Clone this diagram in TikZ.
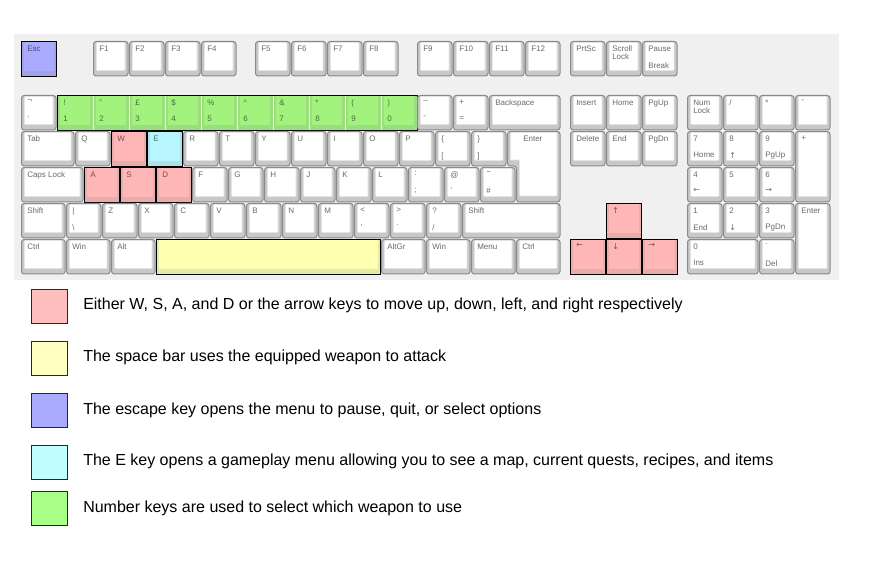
\documentclass[tikz,border=0pt]{standalone}
\usepackage{fontspec}
\setmainfont{Liberation Sans}
\newfontfamily\arrowfont{DejaVu Sans}
\definecolor{kbbg}{HTML}{F0F0F0}
\definecolor{keygray}{HTML}{C8C8C8}
\definecolor{keyedge}{HTML}{8A8A8A}
\definecolor{keytext}{HTML}{6A6A6A}
\definecolor{hlred}{HTML}{FFB6B6}
\definecolor{hlyellow}{HTML}{FFFFB0}
\definecolor{hlblue}{HTML}{AAAAFF}
\definecolor{hlcyan}{HTML}{B8F6FF}
\definecolor{hlgreen}{HTML}{A2F37E}
\definecolor{lgred}{HTML}{FFBFBF}
\definecolor{lgyellow}{HTML}{FFFFBF}
\definecolor{lgblue}{HTML}{AAAAFF}
\definecolor{lgcyan}{HTML}{BFFFFF}
\definecolor{lggreen}{HTML}{AAFF88}
\tikzset{
  keyout/.style={draw=keyedge, fill=keygray, line width=0.75pt, rounded corners=2pt},
  keyface/.style={draw=black!10, fill=white, line width=0.4pt, rounded corners=0.6pt},
  klab/.style={anchor=north west, inner sep=0pt, text=keytext, font=\fontsize{6}{6}\selectfont, align=left},
  hlout/.style={draw=black, line width=0.9pt},
  legsq/.style={draw=black!85, line width=0.75pt, minimum width=26.6pt, minimum height=25.5pt, inner sep=0pt},
  legtxt/.style={anchor=west, inner sep=0pt, font=\fontsize{12}{14}\selectfont, text=black},
}
% plain key: name, column, top y (px), width (u), height (u), top label, bottom label
\newcommand\kk[7]{%
  \pgfmathsetmacro\kx{21+36*#2}%
  \pgfmathsetmacro\kw{36*#4}%
  \pgfmathsetmacro\kh{36*#5}%
  \draw[keyout] (\kx+0.5,#3+0.5) rectangle ++(\kw-1.5,\kh-1.5);
  \draw[keyface] (\kx+3.5,#3+1.5) rectangle ++(\kw-7.5,\kh-8);
  \node[klab] (#1) at (\kx+6,#3+4.5) {#6};
  \node[klab] (#1b) at (\kx+6,#3+21) {#7};
}
% coloured key: name, column, top y, width, height, colour, top label, bottom label, outline style
\newcommand\ck[9]{%
  \pgfmathsetmacro\kx{21+36*#2}%
  \pgfmathsetmacro\kw{36*#4}%
  \pgfmathsetmacro\kh{36*#5}%
  \fill[#6!82!gray] (\kx+0.5,#3+0.5) rectangle ++(\kw-1,\kh-1);
  \fill[#6] (\kx+3,#3+1.5) rectangle ++(\kw-6.5,\kh-7.5);
  \draw[#9] (\kx+0.5,#3+0.5) rectangle ++(\kw-1,\kh-1);
  \node[klab, text=#6!45!black] (#1) at (\kx+6,#3+4.5) {#7};
  \node[klab, text=#6!45!black] (#1b) at (\kx+6,#3+21) {#8};
}
\begin{document}
\begin{tikzpicture}[x=0.75pt,y=-0.75pt]
\useasboundingbox (0,0) rectangle (892,573);
\fill[white] (0,0) rectangle (892,573);
\fill[kbbg] (14,34) rectangle (839,280);

% function row
\ck{esc}{0}{41}{1}{1}{hlblue}{Esc}{}{hlout}
\kk{f1}{2}{41}{1}{1}{F1}{}
\kk{f2}{3}{41}{1}{1}{F2}{}
\kk{f3}{4}{41}{1}{1}{F3}{}
\kk{f4}{5}{41}{1}{1}{F4}{}
\kk{f5}{6.5}{41}{1}{1}{F5}{}
\kk{f6}{7.5}{41}{1}{1}{F6}{}
\kk{f7}{8.5}{41}{1}{1}{F7}{}
\kk{f8}{9.5}{41}{1}{1}{F8}{}
\kk{f9}{11}{41}{1}{1}{F9}{}
\kk{f10}{12}{41}{1}{1}{F10}{}
\kk{f11}{13}{41}{1}{1}{F11}{}
\kk{f12}{14}{41}{1}{1}{F12}{}
\kk{prt}{15.25}{41}{1}{1}{PrtSc}{}
\kk{scr}{16.25}{41}{1}{1}{Scroll\\Lock}{}
\kk{pause}{17.25}{41}{1}{1}{Pause}{Break}

% number row
\kk{grave}{0}{95}{1}{1}{¬}{\symbol{96}}
\ck{g1}{1}{95}{1}{1}{hlgreen}{!}{1}{draw=none}
\ck{g2}{2}{95}{1}{1}{hlgreen}{"}{2}{draw=none}
\ck{g3}{3}{95}{1}{1}{hlgreen}{£}{3}{draw=none}
\ck{g4}{4}{95}{1}{1}{hlgreen}{\$}{4}{draw=none}
\ck{g5}{5}{95}{1}{1}{hlgreen}{\%}{5}{draw=none}
\ck{g6}{6}{95}{1}{1}{hlgreen}{\textasciicircum}{6}{draw=none}
\ck{g7}{7}{95}{1}{1}{hlgreen}{\&}{7}{draw=none}
\ck{g8}{8}{95}{1}{1}{hlgreen}{*}{8}{draw=none}
\ck{g9}{9}{95}{1}{1}{hlgreen}{(}{9}{draw=none}
\ck{g0}{10}{95}{1}{1}{hlgreen}{)}{0}{draw=none}
\draw[hlout] (57.5,95.5) rectangle (417.5,130.5);
\kk{minus}{11}{95}{1}{1}{\_}{-}
\kk{equal}{12}{95}{1}{1}{+}{=}
\kk{bksp}{13}{95}{2}{1}{Backspace}{}
\kk{ins}{15.25}{95}{1}{1}{Insert}{}
\kk{home}{16.25}{95}{1}{1}{Home}{}
\kk{pgup}{17.25}{95}{1}{1}{PgUp}{}
\kk{numlk}{18.5}{95}{1}{1}{Num\\Lock}{}
\kk{ndiv}{19.5}{95}{1}{1}{/}{}
\kk{nmul}{20.5}{95}{1}{1}{*}{}
\kk{nsub}{21.5}{95}{1}{1}{-}{}

% tab row
\kk{tab}{0}{131}{1.5}{1}{Tab}{}
\kk{q}{1.5}{131}{1}{1}{Q}{}
\ck{w}{2.5}{131}{1}{1}{hlred}{W}{}{hlout}
\ck{e}{3.5}{131}{1}{1}{hlcyan}{E}{}{hlout}
\kk{r}{4.5}{131}{1}{1}{R}{}
\kk{t}{5.5}{131}{1}{1}{T}{}
\kk{y}{6.5}{131}{1}{1}{Y}{}
\kk{u}{7.5}{131}{1}{1}{U}{}
\kk{i}{8.5}{131}{1}{1}{I}{}
\kk{o}{9.5}{131}{1}{1}{O}{}
\kk{p}{10.5}{131}{1}{1}{P}{}
\kk{lbr}{11.5}{131}{1}{1}{\{}{[}
\kk{rbr}{12.5}{131}{1}{1}{\}}{]}
\kk{kdel}{15.25}{131}{1}{1}{Delete}{}
\kk{kend}{16.25}{131}{1}{1}{End}{}
\kk{pgdn}{17.25}{131}{1}{1}{PgDn}{}
\kk{p7}{18.5}{131}{1}{1}{7}{Home}
\kk{p8}{19.5}{131}{1}{1}{8}{\arrowfont ↑}
\kk{p9}{20.5}{131}{1}{1}{9}{PgUp}
\kk{padd}{21.5}{131}{1}{2}{+}{}

% caps row
\kk{caps}{0}{167}{1.75}{1}{Caps Lock}{}
\ck{a}{1.75}{167}{1}{1}{hlred}{A}{}{hlout}
\ck{s}{2.75}{167}{1}{1}{hlred}{S}{}{hlout}
\ck{d}{3.75}{167}{1}{1}{hlred}{D}{}{hlout}
\kk{f}{4.75}{167}{1}{1}{F}{}
\kk{g}{5.75}{167}{1}{1}{G}{}
\kk{h}{6.75}{167}{1}{1}{H}{}
\kk{j}{7.75}{167}{1}{1}{J}{}
\kk{k}{8.75}{167}{1}{1}{K}{}
\kk{l}{9.75}{167}{1}{1}{L}{}
\kk{semi}{10.75}{167}{1}{1}{:}{;}
\kk{quote}{11.75}{167}{1}{1}{@}{\symbol{39}}
\kk{hash}{12.75}{167}{1}{1}{\textasciitilde}{\#}
\kk{p4}{18.5}{167}{1}{1}{4}{\arrowfont ←}
\kk{p5}{19.5}{167}{1}{1}{5}{}
\kk{p6}{20.5}{167}{1}{1}{6}{\arrowfont →}

% ISO enter
\draw[keyout] (507.5,131.5) -- (560,131.5) -- (560,202) -- (516.5,202) -- (516.5,166) -- (507.5,166) -- cycle;
\draw[keyface] (510.5,132.5) -- (557,132.5) -- (557,196) -- (519.5,196) -- (519.5,160) -- (510.5,160) -- cycle;
\node[klab] (enter) at (523,135.5) {Enter};

% shift row
\kk{lshift}{0}{203}{1.25}{1}{Shift}{}
\kk{bsl}{1.25}{203}{1}{1}{|}{\textbackslash}
\kk{z}{2.25}{203}{1}{1}{Z}{}
\kk{x}{3.25}{203}{1}{1}{X}{}
\kk{c}{4.25}{203}{1}{1}{C}{}
\kk{v}{5.25}{203}{1}{1}{V}{}
\kk{b}{6.25}{203}{1}{1}{B}{}
\kk{n}{7.25}{203}{1}{1}{N}{}
\kk{m}{8.25}{203}{1}{1}{M}{}
\kk{comma}{9.25}{203}{1}{1}{<}{,}
\kk{period}{10.25}{203}{1}{1}{>}{.}
\kk{slash}{11.25}{203}{1}{1}{?}{/}
\kk{rshift}{12.25}{203}{2.75}{1}{Shift}{}
\ck{kup}{16.25}{203}{1}{1}{hlred}{\arrowfont ↑}{}{hlout}
\kk{p1}{18.5}{203}{1}{1}{1}{End}
\kk{p2}{19.5}{203}{1}{1}{2}{\arrowfont ↓}
\kk{p3}{20.5}{203}{1}{1}{3}{PgDn}
\kk{pent}{21.5}{203}{1}{2}{Enter}{}

% bottom row
\kk{lctrl}{0}{239}{1.25}{1}{Ctrl}{}
\kk{lwin}{1.25}{239}{1.25}{1}{Win}{}
\kk{lalt}{2.5}{239}{1.25}{1}{Alt}{}
\ck{space}{3.75}{239}{6.25}{1}{hlyellow}{}{}{hlout}
\kk{altgr}{10}{239}{1.25}{1}{AltGr}{}
\kk{rwin}{11.25}{239}{1.25}{1}{Win}{}
\kk{menu}{12.5}{239}{1.25}{1}{Menu}{}
\kk{rctrl}{13.75}{239}{1.25}{1}{Ctrl}{}
\ck{kleft}{15.25}{239}{1}{1}{hlred}{\arrowfont ←}{}{hlout}
\ck{kdown}{16.25}{239}{1}{1}{hlred}{\arrowfont ↓}{}{hlout}
\ck{kright}{17.25}{239}{1}{1}{hlred}{\arrowfont →}{}{hlout}
\kk{p0}{18.5}{239}{2}{1}{0}{Ins}
\kk{pdot}{20.5}{239}{1}{1}{.}{Del}

% legend
\node[legsq, fill=lgred] (lg1) at (49.5,307) {};
\node[legtxt] (lt1) at (83,305.5) {Either W, S, A, and D or the arrow keys to move up, down, left, and right respectively};
\node[legsq, fill=lgyellow] (lg2) at (49.5,359) {};
\node[legtxt] (lt2) at (83,357.5) {The space bar uses the equipped weapon to attack};
\node[legsq, fill=lgblue] (lg3) at (49.5,410.5) {};
\node[legtxt] (lt3) at (83,410.5) {The escape key opens the menu to pause, quit, or select options};
\node[legsq, fill=lgcyan] (lg4) at (49.5,462) {};
\node[legtxt] (lt4) at (83,461.5) {The E key opens a gameplay menu allowing you to see a map, current quests, recipes, and items};
\node[legsq, fill=lggreen] (lg5) at (49.5,508.5) {};
\node[legtxt] (lt5) at (83,508) {Number keys are used to select which weapon to use};
\end{tikzpicture}
\end{document}
